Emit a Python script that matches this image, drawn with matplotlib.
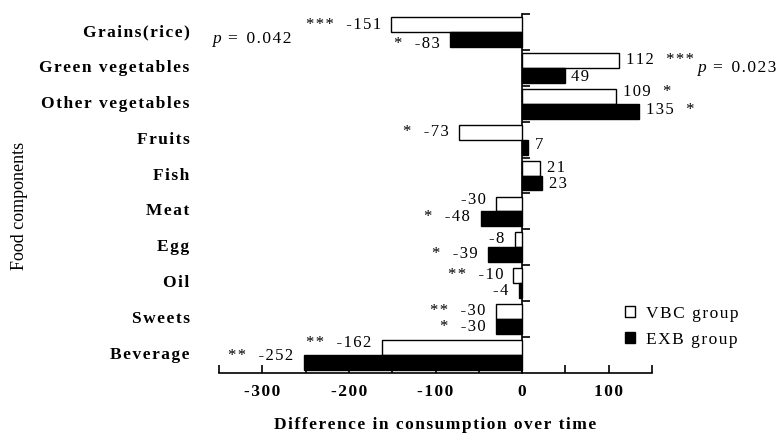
import matplotlib
matplotlib.use('Agg')
import matplotlib.pyplot as plt
from matplotlib.ticker import MultipleLocator, FixedLocator
from matplotlib.patches import Patch

# ---------------- data ----------------
categories = ['Grains(rice)', 'Green vegetables', 'Other vegetables', 'Fruits', 'Fish',
              'Meat', 'Egg', 'Oil', 'Sweets', 'Beverage']
vbc = [-151, 112, 109, -73, 21, -30, -8, -10, -30, -162]
exb = [-83, 49, 135, 7, 23, -48, -39, -4, -30, -252]
vbc_sig = ['***', '***', '*', '*', '', '', '', '**', '**', '**']
exb_sig = ['*', '', '*', '', '', '*', '*', '', '*', '**']
group_labels = ['VBC group', 'EXB group']
xtick_values = [-300, -200, -100, 0, 100]
xtick_labels = ['-300', '-200', '-100', '0', '100']
p_values = ['0.042', '0.023']

# ---------------- layout / style ----------------
FAM = ['Liberation Serif', 'DejaVu Serif']
HS = '\u200a'
PX2PT = 0.72
FS = 12.5
FSV = 12


def spaced(s):
    return HS.join(s)


vbc_dy_px = [1, 0, -4, 0, 0, -3.5, -1, -0.5, -0.5, -5]
exb_dy_px = [4.5, 2, -1, -2, 0.5, -1.5, -1, 0.5, 0.5, -6.5]
bar_h = 0.416

fig = plt.figure(figsize=(7.8, 4.33), dpi=100)
ax = fig.add_axes([219 / 780, 1 - 373 / 433, (652 - 219) / 780, (373 - 14) / 433])

y = list(range(len(categories)))
ax.barh([i - bar_h / 2 for i in y], vbc, height=bar_h, color='white',
        edgecolor='black', linewidth=1.0, zorder=3)
ax.barh([i + bar_h / 2 for i in y], exb, height=bar_h, color='black',
        edgecolor='black', linewidth=1.0, zorder=3)

ax.set_xlim(-350, 150)
ax.set_ylim(len(categories) - 0.5, -0.5)

for s in ['top', 'right']:
    ax.spines[s].set_visible(False)
ax.spines['left'].set_position(('data', 0))
ax.spines['left'].set_linewidth(1.2)
ax.spines['bottom'].set_linewidth(1.2)

ax.xaxis.set_major_locator(FixedLocator(xtick_values))
ax.set_xticklabels([spaced(t) for t in xtick_labels], family=FAM, fontsize=FS,
                   fontweight='bold')
ax.xaxis.set_minor_locator(MultipleLocator(50))
ax.tick_params(axis='x', which='both', direction='in', length=6, width=1.2, pad=8)
ax.set_yticks([i - 0.5 for i in range(len(categories))])
ax.set_yticklabels([])
ax.tick_params(axis='y', direction='in', length=6, width=1.2)

for i, c in enumerate(categories):
    ax.text(-384, i, spaced(c), ha='right', va='center', family=FAM, fontsize=FS,
            fontweight='bold', clip_on=False)


def label(val, yc, sig, dy):
    num = spaced(str(val))
    if val < 0:
        s = (spaced(sig) + '   ' if sig else '') + num
        off = (-7.5, -dy * PX2PT)
        ha = 'right'
    else:
        s = num + ('   ' + spaced(sig) if sig else '')
        off = (5.0, -dy * PX2PT)
        ha = 'left'
    ax.annotate(s, xy=(val, yc), xytext=off, textcoords='offset points', ha=ha,
                va='center', family=FAM, fontsize=FSV, annotation_clip=False)


for i in y:
    label(vbc[i], i - bar_h / 2, vbc_sig[i], vbc_dy_px[i])
    label(exb[i], i + bar_h / 2, exb_sig[i], exb_dy_px[i])


def pval(x_px, y_px, value):
    fx, fy = x_px / 780, 1 - y_px / 433
    fig.text(fx, fy, 'p', ha='left', va='center', family=FAM, fontsize=FS,
             style='italic')
    fig.text(fx + 16 / 780, fy, '=  ' + spaced(value), ha='left', va='center',
             family=FAM, fontsize=FS)


pval(212, 39, p_values[0])
pval(697, 68, p_values[1])

ax.set_xlabel(spaced('Difference in consumption over time'), family=FAM, fontsize=FS,
              fontweight='bold', labelpad=12)
fig.text(20 / 780, 1 - 206 / 433, 'Food components', rotation=90, ha='center',
         va='center', family=FAM, fontsize=13)

handles = [Patch(facecolor='white', edgecolor='black', linewidth=1.0),
           Patch(facecolor='black', edgecolor='black', linewidth=1.0)]
fig.legend(handles, [spaced(g) for g in group_labels], loc='upper left',
           bbox_to_anchor=(625 / 780, 1 - 306 / 433), bbox_transform=fig.transFigure,
           frameon=False, prop={'family': FAM, 'size': FS}, handlelength=0.6,
           handleheight=0.6, handletextpad=0.6, labelspacing=0.55, borderpad=0,
           borderaxespad=0)

fig.savefig('out.png', dpi=100)
